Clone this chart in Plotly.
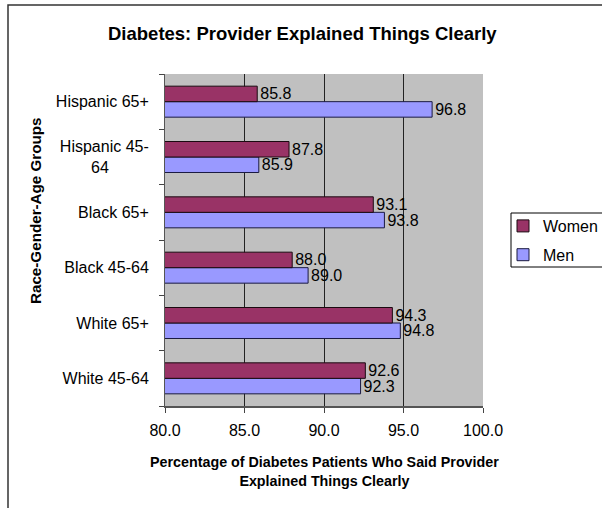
import plotly.graph_objects as go

NB = "\u00a0"
categories = ["White 45-64", "White 65+", "Black 45-64", "Black 65+",
              "Hispanic 45-<br>64" + NB * 9, "Hispanic 65+"]
women = [92.6, 94.3, 88.0, 93.1, 87.8, 85.8]
men = [92.3, 94.8, 89.0, 93.8, 85.9, 96.8]
x_ticks = [80, 85, 90, 95, 100]

W, H = 602, 508
L, R, T, B = 165, 119, 74, 102
pw, ph = W - L - R, H - T - B

def px(x):
    return (x - L) / pw

def py(y):
    return (H - B - y) / ph

font = "Liberation Sans, Arial, sans-serif"
FS = 16

fig = go.Figure()
fig.add_trace(go.Bar(
    y=categories, x=men, name="Men", orientation="h",
    marker=dict(color="#9999FF", line=dict(color="#1a1a40", width=1)),
    text=[f"{v:.1f}" for v in men], textposition="outside",
    textfont=dict(size=FS, color="black", family=font),
    cliponaxis=False, legendrank=2, legendgroup="m",
))
fig.add_trace(go.Bar(
    y=categories, x=women, name="Women", orientation="h",
    marker=dict(color="#993366", line=dict(color="#1a0a10", width=1)),
    text=[f"{v:.1f}" for v in women], textposition="outside",
    textfont=dict(size=FS, color="black", family=font),
    cliponaxis=False, legendrank=1, legendgroup="w",
))

fig.update_layout(
    width=W, height=H,
    margin=dict(l=L, r=R, t=T, b=B, autoexpand=False),
    paper_bgcolor="white", plot_bgcolor="#C0C0C0",
    barmode="group", bargap=0.44, bargroupgap=0,
    font=dict(family=font, size=FS, color="black"),
    uniformtext=dict(minsize=FS - 1, mode="show"),
    showlegend=True,
    legend=dict(
        x=px(503), y=py(209), xanchor="left", yanchor="top",
        borderwidth=0, bgcolor="rgba(0,0,0,0)",
        font=dict(size=FS), itemwidth=30,
        traceorder="grouped", tracegroupgap=5,
    ),
    annotations=[
        dict(text="<b>Diabetes: Provider Explained Things Clearly</b>",
             x=px(302), y=py(33), xref="paper", yref="paper",
             xanchor="center", yanchor="middle", showarrow=False,
             font=dict(size=18.5)),
        dict(text="<b>Percentage of Diabetes Patients Who Said Provider<br>Explained Things Clearly</b>",
             x=px(324), y=py(471), xref="paper", yref="paper",
             xanchor="center", yanchor="middle", showarrow=False,
             font=dict(size=14.3)),
        dict(text="<b>Race-Gender-Age Groups</b>", textangle=-90,
             x=px(35), y=py(211), xref="paper", yref="paper",
             xanchor="center", yanchor="middle", showarrow=False,
             font=dict(size=15.2)),
    ],
    shapes=[
        dict(type="rect", xref="paper", yref="paper",
             x0=px(8), x1=px(W + 30), y0=py(H + 30), y1=py(5),
             line=dict(color="#333333", width=1.5), layer="below"),
        dict(type="rect", xref="paper", yref="paper",
             x0=px(511), x1=px(W + 30), y0=py(267), y1=py(213),
             line=dict(color="black", width=1), fillcolor="white", layer="below"),
    ],
)

fig.update_xaxes(
    range=[80, 100], tickvals=x_ticks,
    ticktext=[f"{v:.1f}" for v in x_ticks],
    showgrid=True, gridcolor="#222222", gridwidth=1,
    ticks="outside", ticklen=5, tickcolor="#444444",
    showline=True, linecolor="#555555", linewidth=2, mirror=False,
    zeroline=False, ticklabelstandoff=4,
    tickfont=dict(size=FS),
)
fig.update_yaxes(
    categoryorder="array", categoryarray=categories,
    tickson="boundaries", ticks="outside", ticklen=5, tickcolor="#444444",
    showline=True, linecolor="#555555", linewidth=1,
    showgrid=False, zeroline=False, ticklabelstandoff=12,
    tickfont=dict(size=FS),
)

fig.write_html("out.html")
